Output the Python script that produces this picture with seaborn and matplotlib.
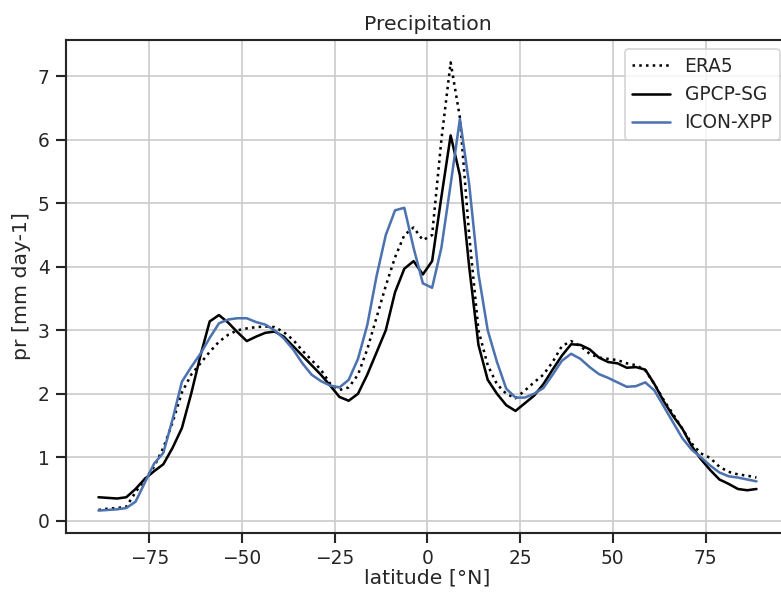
import numpy as np
import pandas as pd
import matplotlib
matplotlib.use("Agg")
import matplotlib.pyplot as plt
import seaborn as sns

lat = [-88.75 + 2.5 * i for i in range(72)]

era5 = [0.17, 0.19, 0.20, 0.22, 0.45, 0.65, 0.85, 1.15, 1.55, 2.02,
        2.30, 2.48, 2.66, 2.82, 2.93, 3.00, 3.03, 3.05, 3.06, 3.05,
        2.97, 2.85, 2.68, 2.53, 2.38, 2.16, 2.06, 2.10, 2.30, 2.70,
        3.20, 3.70, 4.15, 4.50, 4.62, 4.42, 4.50, 6.00, 7.22, 6.35,
        4.50, 3.00, 2.45, 2.15, 2.00, 1.93, 2.05, 2.18, 2.30, 2.50,
        2.75, 2.83, 2.75, 2.63, 2.57, 2.55, 2.53, 2.48, 2.45, 2.37,
        2.15, 1.90, 1.68, 1.45, 1.22, 1.06, 0.99, 0.85, 0.77, 0.73,
        0.71, 0.68]

gpcp = [0.37, 0.36, 0.35, 0.37, 0.50, 0.66, 0.78, 0.89, 1.15, 1.46,
        2.00, 2.60, 3.14, 3.24, 3.12, 2.97, 2.83, 2.90, 2.96, 2.98,
        2.90, 2.75, 2.60, 2.45, 2.30, 2.13, 1.95, 1.89, 2.00, 2.30,
        2.65, 3.00, 3.60, 3.97, 4.09, 3.88, 4.09, 5.10, 6.07, 5.44,
        4.00, 2.77, 2.22, 2.00, 1.82, 1.73, 1.85, 1.97, 2.15, 2.38,
        2.60, 2.78, 2.77, 2.70, 2.57, 2.50, 2.48, 2.41, 2.42, 2.38,
        2.15, 1.88, 1.65, 1.45, 1.18, 0.97, 0.80, 0.65, 0.58, 0.50,
        0.48, 0.50]

icon = [0.16, 0.17, 0.18, 0.20, 0.30, 0.60, 0.90, 1.07, 1.60, 2.19,
        2.42, 2.63, 2.88, 3.11, 3.17, 3.19, 3.19, 3.13, 3.09, 3.00,
        2.87, 2.70, 2.48, 2.30, 2.20, 2.13, 2.10, 2.22, 2.55, 3.08,
        3.85, 4.50, 4.89, 4.93, 4.30, 3.74, 3.67, 4.30, 5.30, 6.33,
        5.30, 3.89, 3.00, 2.50, 2.08, 1.94, 1.94, 2.00, 2.09, 2.30,
        2.52, 2.63, 2.55, 2.42, 2.31, 2.25, 2.18, 2.11, 2.12, 2.18,
        2.05, 1.80, 1.55, 1.30, 1.12, 1.00, 0.87, 0.76, 0.70, 0.68,
        0.65, 0.62]

sns.set_theme(context="notebook", style="ticks", rc={"axes.grid": True})

df = pd.DataFrame({"lat": lat, "ERA5": era5, "GPCP-SG": gpcp, "ICON-XPP": icon})

fig, ax = plt.subplots(figsize=(781 / 122, 592 / 122), dpi=122)
fig.subplots_adjust(left=0.0841, right=1.0106, bottom=0.0997, top=0.9324)

sns.lineplot(data=df, x="lat", y="ERA5", ax=ax, color="black", linestyle=":", label="ERA5")
sns.lineplot(data=df, x="lat", y="GPCP-SG", ax=ax, color="black", linestyle="-", label="GPCP-SG")
sns.lineplot(data=df, x="lat", y="ICON-XPP", ax=ax, color="#4C72B0", linestyle="-", label="ICON-XPP")

ax.set_xlim(-97.6, 97.6)
ax.set_xticks([-75, -50, -25, 0, 25, 50, 75])
ax.set_yticks([0, 1, 2, 3, 4, 5, 6, 7])
ax.set_title("Precipitation")
ax.set_xlabel("latitude [°N]", labelpad=0.5)
ax.set_ylabel("pr [mm day-1]")
ax.legend(loc="upper right")

fig.savefig("out.png", dpi=122)
